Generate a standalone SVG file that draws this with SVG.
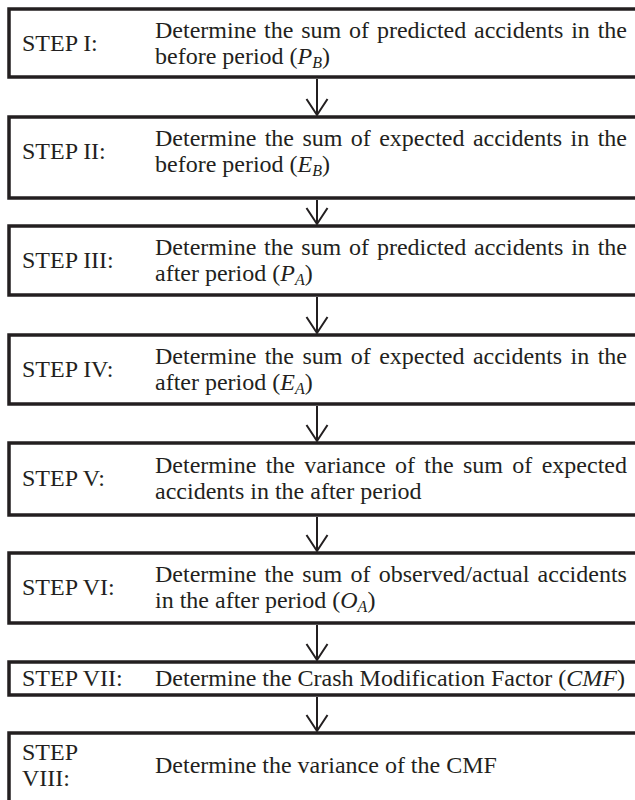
<svg xmlns="http://www.w3.org/2000/svg" width="635" height="800" viewBox="0 0 635 800">
<style>
.box{fill:#fff;stroke:#231f20;stroke-width:3.5}
.t{font-family:"Liberation Serif","Times New Roman",serif;font-size:24px;fill:#231f20}
.i{font-style:italic}
.s{font-style:italic;font-size:16px}
.c{stroke:#231f20;stroke-width:2;fill:none}
</style>
<rect width="635" height="800" fill="#fff"/>
<g id="connectors">
<path class="c" d="M317 79V115M306.5 99L317 115L327.5 99"/>
<path class="c" d="M317 200V224M306.5 208L317 224L327.5 208"/>
<path class="c" d="M317 297V333M306.5 317L317 333L327.5 317"/>
<path class="c" d="M317 406V441M306.5 425L317 441L327.5 425"/>
<path class="c" d="M317 517V551M306.5 535L317 551L327.5 535"/>
<path class="c" d="M317 625V660M306.5 644L317 660L327.5 644"/>
<path class="c" d="M317 697V731M306.5 715L317 731L327.5 715"/>
</g>
<g id="step1">
<rect class="box" x="9" y="9" width="640" height="68"/>
<text class="t" x="22" y="51">STEP I:</text>
<text class="t" x="155" y="38" word-spacing="1.83">Determine the sum of predicted accidents in the</text>
<text class="t" x="155" y="64">before period (<tspan class="i">P</tspan><tspan class="s" dy="4">B</tspan><tspan dy="-4">)</tspan></text>
</g>
<g id="step2">
<rect class="box" x="9" y="117" width="640" height="81"/>
<text class="t" x="22" y="159">STEP II:</text>
<text class="t" x="155" y="146" word-spacing="2.4">Determine the sum of expected accidents in the</text>
<text class="t" x="155" y="172">before period (<tspan class="i">E</tspan><tspan class="s" dy="4">B</tspan><tspan dy="-4">)</tspan></text>
</g>
<g id="step3">
<rect class="box" x="9" y="226" width="640" height="69"/>
<text class="t" x="22" y="268">STEP III:</text>
<text class="t" x="155" y="255" word-spacing="1.83">Determine the sum of predicted accidents in the</text>
<text class="t" x="155" y="281">after period (<tspan class="i">P</tspan><tspan class="s" dy="4">A</tspan><tspan dy="-4">)</tspan></text>
</g>
<g id="step4">
<rect class="box" x="9" y="335" width="640" height="69"/>
<text class="t" x="22" y="377">STEP IV:</text>
<text class="t" x="155" y="364" word-spacing="2.4">Determine the sum of expected accidents in the</text>
<text class="t" x="155" y="390">after period (<tspan class="i">E</tspan><tspan class="s" dy="4">A</tspan><tspan dy="-4">)</tspan></text>
</g>
<g id="step5">
<rect class="box" x="9" y="443" width="640" height="72"/>
<text class="t" x="22" y="486">STEP V:</text>
<text class="t" x="155" y="473" word-spacing="3.36">Determine the variance of the sum of expected</text>
<text class="t" x="155" y="499">accidents in the after period</text>
</g>
<g id="step6">
<rect class="box" x="9" y="553" width="640" height="70"/>
<text class="t" x="22" y="595">STEP VI:</text>
<text class="t" x="155" y="582" word-spacing="2.28">Determine the sum of observed/actual accidents</text>
<text class="t" x="155" y="608">in the after period (<tspan class="i">O</tspan><tspan class="s" dy="4">A</tspan><tspan dy="-4">)</tspan></text>
</g>
<g id="step7">
<rect class="box" x="9" y="662" width="640" height="33"/>
<text class="t" x="22" y="686">STEP VII:</text>
<text class="t" x="155" y="686">Determine the Crash Modification Factor (<tspan class="i">CMF</tspan>)</text>
</g>
<g id="step8">
<rect class="box" x="9" y="733" width="640" height="80"/>
<text class="t" x="22" y="760">STEP</text>
<text class="t" x="22" y="786">VIII:</text>
<text class="t" x="155" y="773">Determine the variance of the CMF</text>
</g>
</svg>
